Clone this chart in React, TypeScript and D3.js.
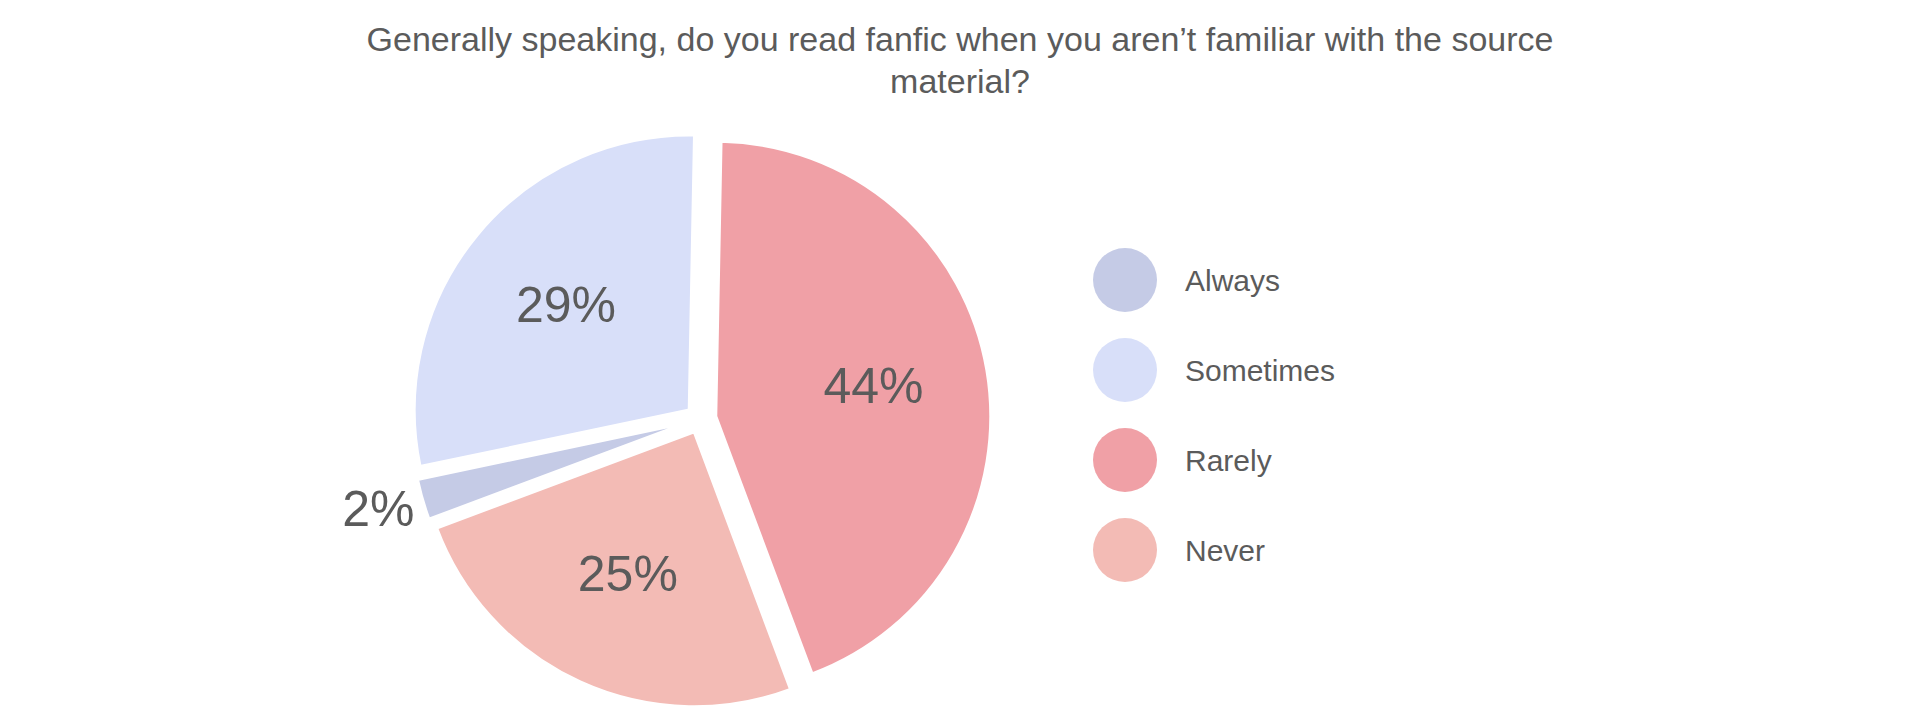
import { useRef, useEffect } from "react";
import * as d3 from "d3";

const categories = ["Always", "Sometimes", "Rarely", "Never"];
// shares in percent
const shares = [2.4, 28.6, 44.0, 25.0];
const colors = ["#c5cbe6", "#d8dff9", "#f0a0a6", "#f3bbb5"];
const titleLines = [
  "Generally speaking, do you read fanfic when you aren’t familiar with the source",
  "material?",
];

const width = 1920;
const height = 725;
const font = "'Liberation Sans', Arial, Helvetica, sans-serif";
const textColor = "#5b5b5b";

export default function App() {
  const svgRef = useRef(null);

  useEffect(() => {
    const svg = d3.select(svgRef.current);
    svg.selectAll("*").remove();
    svg.attr("width", width).attr("height", height);

    // title
    svg
      .append("g")
      .selectAll("text")
      .data(titleLines)
      .join("text")
      .attr("x", 960)
      .attr("y", (_, i) => 51 + i * 42)
      .attr("text-anchor", "middle")
      .attr("font-family", font)
      .attr("font-size", 34)
      .attr("fill", textColor)
      .text((d) => d);

    const cx = 700;
    const cy = 419;
    const radius = 275;
    const deg = Math.PI / 180;
    const start = (249.5 - 360) * deg;

    const pie = d3
      .pie<number>()
      .sort(null)
      .value((d) => d)
      .startAngle(start)
      .endAngle(start + 2 * Math.PI);
    const arcs = pie(shares);
    const arc = d3.arc<d3.PieArcDatum<number>>().innerRadius(0).outerRadius(radius);
    const pct = (v: number) => `${Math.round(v)}%`;

    const polar = (a: number, r: number) => [r * Math.sin(a), -r * Math.cos(a)];
    const explode = (i: number) => (categories[i] === "Rarely" ? 16 : 14);

    const g = svg.append("g").attr("transform", `translate(${cx},${cy})`);

    const slices = g
      .selectAll("g.slice")
      .data(arcs)
      .join("g")
      .attr("class", "slice")
      .attr("transform", (d, i) => {
        const [x, y] = polar((d.startAngle + d.endAngle) / 2, explode(i));
        return `translate(${x},${y})`;
      });

    slices
      .append("path")
      .attr("d", arc)
      .attr("fill", (_, i) => colors[i])
      .attr("stroke", "#fff")
      .attr("stroke-width", 3)
      .attr("stroke-linejoin", "round");

    slices
      .append("text")
      .attr("transform", (d) => {
        const span = d.endAngle - d.startAngle;
        const r = span < 0.3 ? radius + 46 : 160;
        const [x, y] = polar((d.startAngle + d.endAngle) / 2, r);
        return `translate(${x},${y})`;
      })
      .attr("dy", "0.28em")
      .attr("text-anchor", "middle")
      .attr("font-family", font)
      .attr("font-size", 50)
      .attr("fill", textColor)
      .text((d) => pct(d.data));

    // legend
    const legend = svg
      .append("g")
      .selectAll("g")
      .data(categories)
      .join("g")
      .attr("transform", (_, i) => `translate(1125,${280 + i * 90})`);

    legend
      .append("circle")
      .attr("r", 32)
      .attr("fill", (_, i) => colors[i]);

    legend
      .append("text")
      .attr("x", 60)
      .attr("dy", "0.35em")
      .attr("font-family", font)
      .attr("font-size", 30)
      .attr("fill", textColor)
      .text((d) => d);
  }, []);

  return (
    <div>
      <svg
        ref={svgRef}
        style={{ position: "absolute", left: 0, top: 0, background: "#fff" }}
      />
    </div>
  );
}
